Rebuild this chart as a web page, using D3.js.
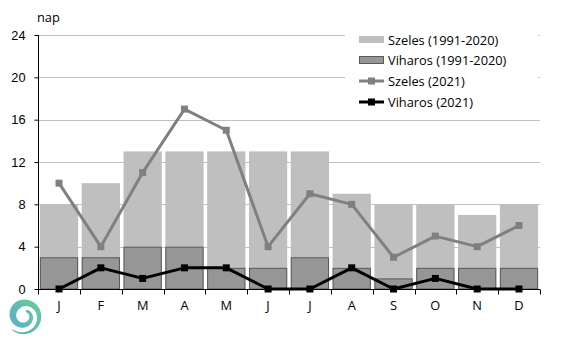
<!DOCTYPE html>
<html><head><meta charset="utf-8">
<script src="https://cdn.jsdelivr.net/npm/d3@7"></script>
<style>body{margin:0;background:#fff}svg{display:block;font-family:"Open Sans","DejaVu Sans",sans-serif}</style>
</head><body><svg id="c" width="567" height="340"></svg>
<script>
const months = ["J","F","M","A","M","J","J","A","S","O","N","D"];
const szelesNorm = [8,10,13,13,13,13,13,9,8,8,7,8];
const viharosNorm = [3,3,4,4,2,2,3,2,1,2,2,2];
const szeles2021 = [10,4,11,17,15,4,9,8,3,5,4,6];
const viharos2021 = [0,2,1,2,2,0,0,2,0,1,0,0];
const yTicks = [0,4,8,12,16,20,24];
const legendLabels = ["Szeles (1991-2020)","Viharos (1991-2020)","Szeles (2021)","Viharos (2021)"];

const FS = 12.8;
const svg = d3.select("#c");
const x = d3.scaleBand().domain(d3.range(12)).range([38,540]).paddingInner(0.085).paddingOuter(0.045);
const xb = d3.scaleLinear().domain([0,12]).range([38,540]);
const y = d3.scaleLinear().domain([0,24]).range([289,35]);

// gridlines
svg.append("g").selectAll("line").data(yTicks.filter(d=>d>0)).join("line")
  .attr("x1",38).attr("x2",540).attr("y1",d=>Math.round(y(d))+0.5).attr("y2",d=>Math.round(y(d))+0.5)
  .attr("stroke","#c0c0c0").attr("stroke-width",1);

// bars
svg.append("g").selectAll("rect").data(szelesNorm).join("rect")
  .attr("x",(d,i)=>x(i)).attr("width",x.bandwidth()).attr("y",d=>y(d)).attr("height",d=>y(0)-y(d))
  .attr("fill","#bfbfbf");
svg.append("g").selectAll("rect").data(viharosNorm).join("rect")
  .attr("x",(d,i)=>x(i)+0.5).attr("width",x.bandwidth()-1).attr("y",d=>y(d)+0.5).attr("height",d=>y(0)-y(d)-0.5)
  .attr("fill","#969696").attr("stroke","#595959").attr("stroke-width",1);

// axes
const yAxis = d3.axisLeft(y).tickValues(yTicks).tickSize(4).tickPadding(6);
const gy = svg.append("g").attr("transform","translate(38.5,0)").call(yAxis);
gy.select(".domain").attr("d","M0,"+y(24)+"V"+y(0)).attr("stroke","#000");
gy.selectAll(".tick line").attr("stroke","#000");
gy.selectAll("text").attr("font-size",FS).attr("fill","#000").attr("dx",-3);

const gx = svg.append("g").attr("transform","translate(0,289.5)");
gx.append("line").attr("x1",38).attr("x2",540).attr("stroke","#000");
gx.selectAll(".tk").data(d3.range(13)).join("line").attr("class","tk")
  .attr("x1",d=>Math.round(xb(d))+0.5).attr("x2",d=>Math.round(xb(d))+0.5).attr("y1",0).attr("y2",5).attr("stroke","#000");
gx.selectAll("text").data(months).join("text")
  .attr("x",(d,i)=>x(i)+x.bandwidth()/2).attr("y",20).attr("text-anchor","middle")
  .attr("font-size",FS).attr("fill","#000").text(d=>d);

svg.append("text").attr("x",37).attr("y",22).attr("font-size",FS).attr("fill","#000").text("nap");

// lines
const line = d3.line().x((d,i)=>x(i)+x.bandwidth()/2).y(d=>y(d));
function series(data,color){
  svg.append("path").datum(data).attr("d",line).attr("fill","none").attr("stroke",color).attr("stroke-width",3).attr("stroke-linejoin","round");
  svg.append("g").selectAll("rect").data(data).join("rect")
    .attr("x",(d,i)=>x(i)+x.bandwidth()/2-3.5).attr("y",d=>y(d)-3.5).attr("width",7).attr("height",7).attr("fill",color);
}
series(szeles2021,"#808080");
series(viharos2021,"#000");

// legend
const lg = svg.append("g");
lg.append("rect").attr("x",345).attr("y",26).attr("width",193).attr("height",91).attr("fill","#fff");
const ly = [40,60,81,102];
lg.append("rect").attr("x",359).attr("y",ly[0]-4).attr("width",25).attr("height",7).attr("fill","#bfbfbf");
lg.append("rect").attr("x",359.5).attr("y",ly[1]-3.5).attr("width",24).attr("height",7).attr("fill","#969696").attr("stroke","#595959");
["#808080","#000"].forEach((c,k)=>{
  const yy = ly[2+k];
  lg.append("line").attr("x1",359).attr("x2",384).attr("y1",yy).attr("y2",yy).attr("stroke",c).attr("stroke-width",3);
  lg.append("rect").attr("x",368).attr("y",yy-3.5).attr("width",7).attr("height",7).attr("fill",c);
});
lg.selectAll("text").data(legendLabels).join("text")
  .attr("x",388).attr("y",(d,i)=>ly[i]+4.5).attr("font-size",FS).attr("fill","#000").text(d=>d);

// logo (spiral band)
const defs = svg.append("defs");
const gr = defs.append("linearGradient").attr("id","lgr").attr("x1","0").attr("y1","1").attr("x2","1").attr("y2","0");
gr.append("stop").attr("offset","0").attr("stop-color","#4a9fd0");
gr.append("stop").attr("offset","1").attr("stop-color","#55c98a");
const cx=24, cy=316;
const outer=[], inner=[];
const N=160, th0=Math.PI*0.72, th1=th0-Math.PI*3.1;
for(let k=0;k<=N;k++){
  const s=k/N;
  const th=th0+(th1-th0)*s;
  const r=18-12.5*s;
  const w = s<0.45 ? 1+ (s/0.45)*6.5 : 7.5-((s-0.45)/0.55)*5;
  outer.push([cx+(r+w/2)*Math.cos(th), cy+(r+w/2)*Math.sin(th)]);
  inner.push([cx+(r-w/2)*Math.cos(th), cy+(r-w/2)*Math.sin(th)]);
}
svg.append("path").attr("d","M"+outer.map(p=>p.join(",")).join("L")+"L"+inner.reverse().map(p=>p.join(",")).join("L")+"Z")
  .attr("fill","url(#lgr)").attr("opacity",0.9);
</script></body></html>
